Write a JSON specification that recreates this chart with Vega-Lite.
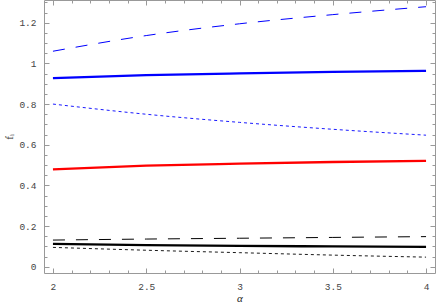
{
  "$schema": "https://vega.github.io/schema/vega-lite/v6.json",
  "width": 391,
  "height": 273,
  "autosize": "none",
  "padding": {"left": 44, "top": 0, "right": 1, "bottom": 32},
  "config": {
    "view": {"stroke": "#999999", "strokeWidth": 1},
    "axis": {"grid": false, "domain": false, "tickColor": "#999999", "labelFont": "Liberation Mono", "labelFontSize": 9.5, "labelColor": "#444444", "labelOverlap": false, "labelFlush": false, "tickWidth": 1}
  },
  "data": {
    "values": [
      {"x": 2, "y": 1.06, "s": "s1"}, {"x": 2.5, "y": 1.137, "s": "s1"}, {"x": 3, "y": 1.195, "s": "s1"}, {"x": 3.5, "y": 1.24, "s": "s1"}, {"x": 4, "y": 1.279, "s": "s1"},
      {"x": 2, "y": 0.928, "s": "s2"}, {"x": 2.5, "y": 0.942, "s": "s2"}, {"x": 3, "y": 0.951, "s": "s2"}, {"x": 3.5, "y": 0.958, "s": "s2"}, {"x": 4, "y": 0.963, "s": "s2"},
      {"x": 2, "y": 0.8, "s": "s3"}, {"x": 2.5, "y": 0.75, "s": "s3"}, {"x": 3, "y": 0.71, "s": "s3"}, {"x": 3.5, "y": 0.676, "s": "s3"}, {"x": 4, "y": 0.647, "s": "s3"},
      {"x": 2, "y": 0.479, "s": "s4"}, {"x": 2.5, "y": 0.497, "s": "s4"}, {"x": 3, "y": 0.507, "s": "s4"}, {"x": 3.5, "y": 0.515, "s": "s4"}, {"x": 4, "y": 0.521, "s": "s4"},
      {"x": 2, "y": 0.131, "s": "s5"}, {"x": 2.5, "y": 0.136, "s": "s5"}, {"x": 3, "y": 0.14, "s": "s5"}, {"x": 3.5, "y": 0.144, "s": "s5"}, {"x": 4, "y": 0.148, "s": "s5"},
      {"x": 2, "y": 0.112, "s": "s6"}, {"x": 2.5, "y": 0.106, "s": "s6"}, {"x": 3, "y": 0.102, "s": "s6"}, {"x": 3.5, "y": 0.1, "s": "s6"}, {"x": 4, "y": 0.098, "s": "s6"},
      {"x": 2, "y": 0.095, "s": "s7"}, {"x": 2.5, "y": 0.081, "s": "s7"}, {"x": 3, "y": 0.069, "s": "s7"}, {"x": 3.5, "y": 0.057, "s": "s7"}, {"x": 4, "y": 0.047, "s": "s7"}
    ]
  },
  "resolve": {"axis": {"x": "independent", "y": "independent"}},
  "layer": [
    {
      "transform": [{"filter": {"field": "s", "oneOf": ["s2", "s4", "s6"]}}],
      "mark": {"type": "line", "interpolate": "monotone", "strokeWidth": 2.3},
      "encoding": {
        "x": {"field": "x", "type": "quantitative", "scale": {"domain": [1.952, 4.048], "nice": false, "zero": false},
          "axis": {"orient": "bottom", "title": "α", "titleFont": "Liberation Serif", "titleFontStyle": "italic", "titleFontWeight": "normal", "titleFontSize": 11, "titleColor": "#222222", "titlePadding": 0,
            "values": [2, 2.1, 2.2, 2.3, 2.4, 2.5, 2.6, 2.7, 2.8, 2.9, 3, 3.1, 3.2, 3.3, 3.4, 3.5, 3.6, 3.7, 3.8, 3.9, 4],
            "labelExpr": "abs(datum.value*2 - round(datum.value*2)) < 1e-6 ? '' + datum.value : ''",
            "tickSize": {"condition": {"test": "abs(datum.value*2 - round(datum.value*2)) < 1e-6", "value": -5}, "value": -3},
            "labelPadding": 13}},
        "y": {"field": "y", "type": "quantitative", "scale": {"domain": [-0.031, 1.312], "nice": false, "zero": false},
          "axis": {"orient": "left", "title": "fᵢ", "titleFont": "Liberation Serif", "titleFontWeight": "normal", "titleFontSize": 11, "titleColor": "#222222", "titlePadding": 4,
            "values": [0, 0.05, 0.1, 0.15, 0.2, 0.25, 0.3, 0.35, 0.4, 0.45, 0.5, 0.55, 0.6, 0.65, 0.7, 0.75, 0.8, 0.85, 0.9, 0.95, 1, 1.05, 1.1, 1.15, 1.2, 1.25, 1.3],
            "labelExpr": "abs(datum.value*5 - round(datum.value*5)) < 1e-6 ? '' + datum.value : ''",
            "tickSize": {"condition": {"test": "abs(datum.value*5 - round(datum.value*5)) < 1e-6", "value": -5}, "value": -3},
            "labelPadding": 13}},
        "detail": {"field": "s", "type": "nominal"},
        "color": {"field": "s", "type": "nominal", "legend": null, "scale": {"domain": ["s1", "s2", "s3", "s4", "s5", "s6", "s7"], "range": ["#0000ff", "#0000ff", "#0000ff", "#ff0000", "#000000", "#000000", "#000000"]}}
      }
    },
    {
      "transform": [{"filter": {"field": "s", "oneOf": ["s1", "s5"]}}],
      "mark": {"type": "line", "interpolate": "monotone", "strokeWidth": 1, "strokeDash": [12, 11]},
      "encoding": {
        "x": {"field": "x", "type": "quantitative", "axis": null},
        "y": {"field": "y", "type": "quantitative", "axis": null},
        "detail": {"field": "s", "type": "nominal"},
        "color": {"field": "s", "type": "nominal", "legend": null}
      }
    },
    {
      "transform": [{"filter": {"field": "s", "oneOf": ["s3", "s7"]}}],
      "mark": {"type": "line", "interpolate": "monotone", "strokeWidth": 0.9, "strokeDash": [3, 3]},
      "encoding": {
        "x": {"field": "x", "type": "quantitative", "axis": null},
        "y": {"field": "y", "type": "quantitative", "axis": null},
        "detail": {"field": "s", "type": "nominal"},
        "color": {"field": "s", "type": "nominal", "legend": null}
      }
    },
    {
      "mark": {"type": "point", "opacity": 0},
      "encoding": {
        "x": {"field": "x", "type": "quantitative",
          "axis": {"orient": "top", "title": null, "labels": false,
            "values": [2, 2.1, 2.2, 2.3, 2.4, 2.5, 2.6, 2.7, 2.8, 2.9, 3, 3.1, 3.2, 3.3, 3.4, 3.5, 3.6, 3.7, 3.8, 3.9, 4],
            "tickSize": {"condition": {"test": "abs(datum.value*2 - round(datum.value*2)) < 1e-6", "value": -5}, "value": -3}}},
        "y": {"field": "y", "type": "quantitative",
          "axis": {"orient": "right", "title": null, "labels": false,
            "values": [0, 0.05, 0.1, 0.15, 0.2, 0.25, 0.3, 0.35, 0.4, 0.45, 0.5, 0.55, 0.6, 0.65, 0.7, 0.75, 0.8, 0.85, 0.9, 0.95, 1, 1.05, 1.1, 1.15, 1.2, 1.25, 1.3],
            "tickSize": {"condition": {"test": "abs(datum.value*5 - round(datum.value*5)) < 1e-6", "value": -5}, "value": -3}}}
      }
    }
  ]
}
